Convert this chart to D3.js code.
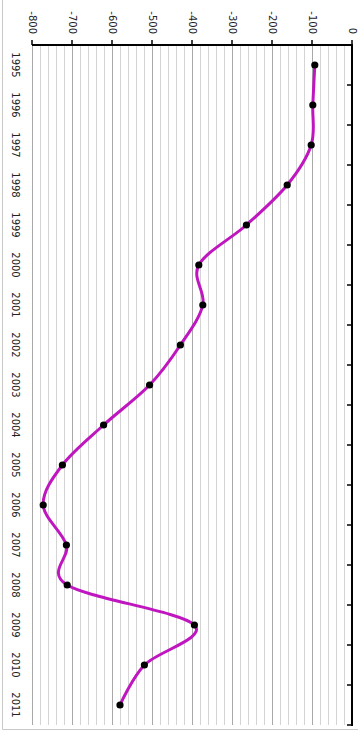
<!DOCTYPE html>
<html>
<head>
<meta charset="utf-8">
<script src="https://cdn.jsdelivr.net/npm/d3@7"></script>
<style>
html,body{margin:0;padding:0;background:#fff;}
svg{display:block;}
</style>
</head>
<body>
<svg id="chart" width="358" height="736"></svg>
<script>
const years = ["1995","1996","1997","1998","1999","2000","2001","2002","2003","2004","2005","2006","2007","2008","2009","2010","2011"];
const values = [-93,-98,-102,-162,-264,-383,-373,-429,-506,-621,-724,-772,-714,-712,-394,-519,-580];
const valueTicks = [-800,-700,-600,-500,-400,-300,-200,-100,0];

(function(){
const svg = d3.select("#chart");
const pLeft = 32, pRight = 352, pTop = 45, pBottom = 725;

const x = d3.scaleLinear().domain([-800, 0]).range([pLeft, pRight]);
const y = d3.scaleBand().domain(years).range([pTop, pBottom]).padding(0);

const font = "DejaVu Sans, Verdana, sans-serif";

// outer border (left and bottom visible)
svg.append("line").attr("x1",2.5).attr("x2",2.5).attr("y1",0).attr("y2",729.5)
  .attr("stroke","#c8c8c8").attr("stroke-width",1);
svg.append("line").attr("x1",2.5).attr("x2",358).attr("y1",729.5).attr("y2",729.5)
  .attr("stroke","#c8c8c8").attr("stroke-width",1);

// minor gridlines every 20
const minor = d3.range(-800, 0, 20).filter(v => v % 100 !== 0);
svg.append("g").selectAll("line").data(minor).join("line")
  .attr("x1", d => Math.round(x(d)) + 0.5).attr("x2", d => Math.round(x(d)) + 0.5)
  .attr("y1", pTop).attr("y2", pBottom)
  .attr("stroke", "#d4d4d4").attr("stroke-width", 1);
// major gridlines
svg.append("g").selectAll("line").data(valueTicks.filter(v => v !== 0)).join("line")
  .attr("x1", d => Math.round(x(d)) + 0.5).attr("x2", d => Math.round(x(d)) + 0.5)
  .attr("y1", pTop).attr("y2", pBottom)
  .attr("stroke", "#a8a8a8").attr("stroke-width", 1);

// top value axis
const gTop = svg.append("g");
gTop.append("line").attr("x1", pLeft).attr("x2", pRight + 1).attr("y1", pTop).attr("y2", pTop)
  .attr("stroke", "#000").attr("stroke-width", 2);
gTop.selectAll("line.tk").data(valueTicks).join("line").attr("class","tk")
  .attr("x1", d => x(d)).attr("x2", d => x(d)).attr("y1", pTop - 5).attr("y2", pTop)
  .attr("stroke", "#000").attr("stroke-width", 1.5);
gTop.selectAll("text").data(valueTicks).join("text")
  .attr("transform", d => `translate(${x(d)},${pTop - 11}) rotate(90)`)
  .attr("text-anchor", "end").attr("dy", "0.35em")
  .attr("font-family", font).attr("font-size", 10).attr("fill", "#222")
  .text(d => d);

// right category axis (zero line)
const gRight = svg.append("g");
gRight.append("line").attr("x1", pRight).attr("x2", pRight).attr("y1", pTop - 1).attr("y2", pBottom + 1)
  .attr("stroke", "#000").attr("stroke-width", 2);
const bounds = years.map(d => y(d)).concat([pBottom]);
gRight.selectAll("line.tk").data(bounds).join("line").attr("class","tk")
  .attr("x1", pRight - 5).attr("x2", pRight).attr("y1", d => d).attr("y2", d => d)
  .attr("stroke", "#000").attr("stroke-width", 1.5);

// year labels on left
svg.append("g").selectAll("text").data(years).join("text")
  .attr("transform", d => `translate(15.5,${y(d) + y.bandwidth()/2}) rotate(90)`)
  .attr("text-anchor", "middle").attr("dy", "0.35em")
  .attr("font-family", font).attr("font-size", 10).attr("fill", "#222")
  .text(d => d);

// data line
const pts = years.map((yr, i) => ({yr, v: values[i]}));
const line = d3.line()
  .x(d => x(d.v))
  .y(d => y(d.yr) + y.bandwidth()/2)
  .curve(d3.curveCardinal.tension(0));
svg.append("path").datum(pts).attr("d", line)
  .attr("fill", "none").attr("stroke", "#c016c0").attr("stroke-width", 3);

svg.append("g").selectAll("circle").data(pts).join("circle")
  .attr("cx", d => x(d.v)).attr("cy", d => y(d.yr) + y.bandwidth()/2)
  .attr("r", 3.6).attr("fill", "#000");
})();
</script>
</body>
</html>
